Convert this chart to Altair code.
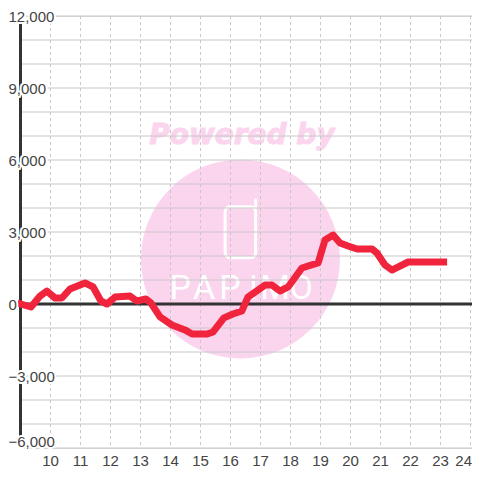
import altair as alt
import pandas as pd

hours = [8.9, 9.35, 9.65, 9.88, 10.15, 10.38, 10.65, 11.15, 11.42, 11.68, 11.88, 12.15, 12.65, 12.88,
         13.18, 13.35, 13.65, 14.05, 14.48, 14.72, 15.22, 15.42, 15.78, 16.08, 16.38, 16.58, 17.15,
         17.38, 17.65, 17.92, 18.38, 18.92, 19.15, 19.42, 19.65, 19.92, 20.22, 20.72, 20.88, 21.15,
         21.38, 21.58, 21.92, 23.22]
values = [40, -125, 330, 540, 250, 250, 625, 875, 710, 125, 0, 290, 330, 125,
          210, 40, -540, -875, -1080, -1250, -1250, -1165, -580, -415, -290, 290, 790,
          790, 540, 710, 1500, 1710, 2665, 2875, 2540, 2415, 2290, 2290, 2125, 1625,
          1415, 1540, 1750, 1750]
x_ticks = list(range(10, 25))
x_labels = list(range(10, 24))
last_label = [24]
y_grid = list(range(-6000, 13000, 1000))
y_labels_main = [12000, 9000, 6000, 3000, -3000]
y_label_zero = [0]
y_label_bottom = [-6000]
wordmark = ["P", "A", "P", "i", "M", "O"]
wordmark_x = [14.32, 15.12, 15.98, 16.76, 17.49, 18.36]

X_DOM = [9, 24.05]
Y_DOM = [-6000, 12000]
FONT = "Liberation Sans"
PINK = "#fbd5ee"
TXT = "#444444"

xs = alt.Scale(domain=X_DOM, nice=False, zero=False)
ys = alt.Scale(domain=Y_DOM, nice=False, zero=False)
X = alt.X("x:Q", scale=xs, title=None, axis=None)
Y = alt.Y("y:Q", scale=ys, title=None, axis=None)

line_df = pd.DataFrame({"x": hours, "y": values})

circle = alt.Chart(pd.DataFrame({"x": [16.33], "y": [1875]})).mark_point(
    filled=True, color=PINK, opacity=1, size=39600).encode(x=X, y=Y)
powered = alt.Chart(pd.DataFrame({"x": [16.38], "y": [7000], "t": ["Powered by"]})).mark_text(
    font="DejaVu Sans", fontSize=28, fontWeight="bold", fontStyle="italic", color=PINK, align="center",
    baseline="middle", stroke=PINK, strokeWidth=1).encode(x=X, y=Y, text="t:N")
phone = alt.Chart(pd.DataFrame({"x": [15.82], "x2": [16.84], "y": [4054], "y2": [1929]})).mark_rect(
    fill=None, stroke="white", strokeWidth=3, cornerRadius=5).encode(x=X, x2="x2:Q", y=Y, y2="y2:Q")
antenna = alt.Chart(pd.DataFrame({"x": [16.84], "y": [4330], "y2": [4054]})).mark_rule(
    color="white", strokeWidth=3, strokeCap="round").encode(x=X, y=Y, y2="y2:Q")
word = alt.Chart(pd.DataFrame({"x": wordmark_x, "y": [625] * 6, "t": wordmark})).mark_text(
    font="Roboto", fontSize=34, color="white", align="center", baseline="middle"
).encode(x=X, y=Y, text="t:N", detail="x:Q")

hgrid = alt.Chart(pd.DataFrame({"y": y_grid})).mark_rule(color="#c8c8c8", strokeWidth=1).encode(y=Y)
vgrid = alt.Chart(pd.DataFrame({"x": x_ticks})).mark_rule(
    color="#c8c8c8", strokeWidth=1, strokeDash=[3, 3]).encode(x=X)
x_text = alt.Chart(pd.DataFrame({"x": x_labels, "y": [-6000] * len(x_labels)})).mark_text(
    font=FONT, fontSize=15, color=TXT, align="center", baseline="top", dy=6
).encode(x=X, y=Y, text=alt.Text("x:Q", format="d"))
x_last = alt.Chart(pd.DataFrame({"x": last_label, "y": [-6000]})).mark_text(
    font=FONT, fontSize=15, color=TXT, align="right", baseline="top", dx=1.5, dy=6
).encode(x=X, y=Y, text=alt.Text("x:Q", format="d"))
yaxis = alt.Chart(pd.DataFrame({"x": [9]})).mark_rule(color="#333333", strokeWidth=3).encode(x=X)
zero = alt.Chart(pd.DataFrame({"y": [0]})).mark_rule(color="#333333", strokeWidth=3).encode(y=Y)
red = alt.Chart(line_df).mark_line(color="#f0243c", strokeWidth=7, strokeJoin="round",
                                   strokeCap="butt").encode(x=X, y=Y, order="x:Q")


def labels(vals, dx, dy=1):
    df = pd.DataFrame({"y": vals, "x": [9] * len(vals)})
    base = alt.Chart(df).encode(x=X, y=Y, text=alt.Text("y:Q", format=","))
    common = dict(font=FONT, fontSize=15, align="left", baseline="middle", dx=dx, dy=dy)
    return [base.mark_text(stroke="white", strokeWidth=4, **common),
            base.mark_text(color=TXT, **common)]


chart = alt.layer(
    circle, powered, phone, antenna, word, hgrid, vgrid, yaxis, zero, red, x_text, x_last,
    *labels(y_labels_main, -12), *labels(y_label_zero, -12), *labels(y_label_bottom, -12, -6),
).properties(
    width=451.5, height=432,
    autosize=alt.AutoSizeParams(type="none"),
    padding={"left": 12.5, "top": 8, "right": 0, "bottom": 24},
).configure_view(stroke=None).configure(background="white")

chart.save("out.html", embed_options={"renderer": "svg", "actions": False})
